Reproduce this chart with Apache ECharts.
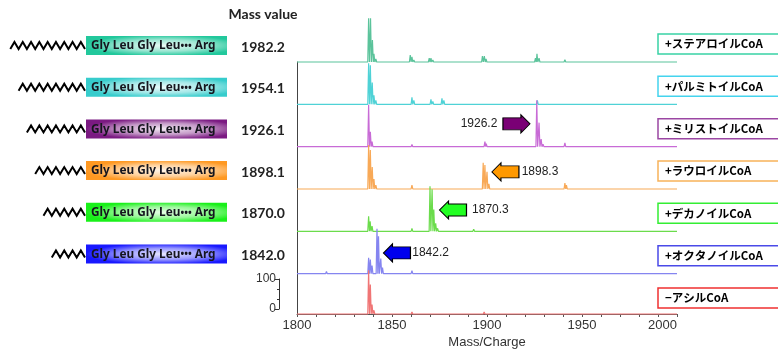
<!DOCTYPE html>
<html><head><meta charset="utf-8">
<script src="https://cdn.jsdelivr.net/npm/echarts@6/dist/echarts.min.js"></script>
<style>html,body{margin:0;padding:0;background:#fff}#c{width:778px;height:350px}</style>
</head><body><div id="c"></div>
<script>
// ---------------- data ----------------
const rowLabels = ['+ステアロイルCoA', '+パルミトイルCoA', '+ミリストイルCoA', '+ラウロイルCoA', '+デカノイルCoA', '+オクタノイルCoA', '−アシルCoA'];
const massValues = ['1982.2', '1954.1', '1926.1', '1898.1', '1870.0', '1842.0'];
const acylCarbons = [18, 16, 14, 12, 10, 8];
const peptideParts = ['Gly Leu Gly Leu', '\u2022\u2022\u2022', ' Arg'];
const massHeader = 'Mass value';
const xMin = 1800, xMax = 2000, xLabelStep = 50;
const scaleMin = 0, scaleMax = 100;
const xName = 'Mass/Charge';

// peaks: [m/z, relative intensity]
const specStearoyl = [[1816,5],[1837.7,146],[1838.7,146],[1839.7,73],[1840.5,27],[1841.5,10],[1853,4],[1859.6,23],[1860.5,17],[1861.5,7],[1869.6,13],[1870.5,13],[1871.5,7],[1885,3],[1897.6,20],[1898.6,20],[1899.5,10],[1925.5,13],[1926.3,27],[1927.4,13],[1941,8],[1954,4],[1965,3],[1984,5]];
const specPalmitoyl = [[1815,4],[1837.7,137],[1838.6,130],[1839.6,73],[1840.5,30],[1841.5,13],[1860.5,23],[1861.5,13],[1870.5,17],[1871.5,10],[1876.3,20],[1877.3,13],[1885,4],[1898.5,6],[1926.5,13],[1927.5,6],[1941,4]];
const specMyristoyl = [[1815,3],[1837.7,140],[1838.6,50],[1839.5,17],[1860.5,7],[1876,4],[1898.9,17],[1899.6,10],[1926.2,155],[1927.4,80],[1928.5,25],[1929.5,8],[1941,13],[1942,6],[1960,3],[1980,3]];
const specLauroyl = [[1837.7,147],[1838.6,130],[1839.6,73],[1840.5,33],[1841.5,13],[1860.5,13],[1861.5,6],[1870,4],[1898.0,87],[1898.9,80],[1900,57],[1901,17],[1941,20],[1941.8,13],[1955,3],[1970,3]];
const specDecanoyl = [[1837.7,50],[1838.5,33],[1839.5,17],[1860.5,10],[1870.0,150],[1871.1,140],[1872.0,73],[1873,27],[1874,10],[1893,7],[1898.5,4],[1984,4]];
const specOctanoyl = [[1815.5,7],[1837.7,53],[1838.6,47],[1839.5,27],[1842.1,150],[1842.9,125],[1844.1,50],[1845,20],[1860.5,10],[1863,5],[1898,6],[1903,6],[1930,3],[1984,3]];
const specNone = [[1837.7,153],[1838.6,103],[1839.5,33],[1840.5,13],[1860.5,7],[1898.5,7],[1930,4],[1942,3]];
const spectra = [specStearoyl, specPalmitoyl, specMyristoyl, specLauroyl, specDecanoyl, specOctanoyl, specNone];

// annotations (row index, label, arrow direction)
const annotations = [
  {row: 2, label: '1926.2', dir: 'right', arrow: [1915.5, 76], text: [1895.8, 76]},
  {row: 3, label: '1898.3', dir: 'left',  arrow: [1909.7, 57], text: [1927.9, 57]},
  {row: 4, label: '1870.3', dir: 'left',  arrow: [1882.1, 71], text: [1901.8, 71]},
  {row: 5, label: '1842.2', dir: 'left',  arrow: [1852.6, 69], text: [1870.3, 69]}
];

// ---------------- styles / layout ----------------
const specColors = ['#5bc39b', '#4fd2d6', '#c86bd6', '#f8a957', '#6bdc4c', '#8585f0', '#f07575'];
const boxColors  = ['#39d2a5', '#44d4ee', '#9b47a3', '#f7b25a', '#33ee33', '#4a4ae8', '#f03030'];
const pepColors  = ['#22c89c', '#36cccc', '#7b1a82', '#ff9922', '#19f019', '#1818ff'];
const arrowColors = {2: '#7a0075', 3: '#ff9900', 4: '#22ff22', 5: '#0000ee'};

const PLOT_L = 297, PLOT_W = 380, ROW_H = 42.33, BASE0 = 62;
const PX_PER_UNIT = 0.3; // 100 units = 30 px
const Y_MAX = ROW_H / PX_PER_UNIT;
const NARROW = 'Liberation Sans Narrow, Liberation Sans, Arial';

const ARROW_R = 'path://M0,3 L18,3 L18,0 L27,9 L18,18 L18,15 L0,15 Z';
const ARROW_L = 'path://M27,3 L9,3 L9,0 L0,9 L9,18 L9,15 L27,15 Z';

function buildLine(peaks) {
  const d = [[xMin, 0]];
  peaks.forEach(p => { d.push([p[0] - 0.45, 0]); d.push([p[0], p[1]]); d.push([p[0] + 0.45, 0]); });
  d.push([xMax, 0]);
  return d;
}

const grids = [], xAxes = [], yAxes = [], series = [];
for (let i = 0; i < spectra.length; i++) {
  const base = BASE0 + i * ROW_H;
  grids.push({left: PLOT_L, width: PLOT_W, top: base - ROW_H, height: ROW_H});
  const last = i === spectra.length - 1;
  xAxes.push({
    gridIndex: i, type: 'value', min: xMin, max: xMax, interval: xLabelStep,
    show: last,
    axisLine: {show: true, lineStyle: {color: '#555', width: 1}},
    axisTick: {show: true, length: 3, lineStyle: {color: '#555'}},
    minorTick: {show: true, splitNumber: 5, length: 3, lineStyle: {color: '#555'}},
    splitLine: {show: false}, minorSplitLine: {show: false},
    axisLabel: {show: last, fontFamily: NARROW, fontSize: 13, color: '#333', margin: 5, alignMaxLabel: 'right',
      formatter: v => String(v)},
    name: last ? xName : '', nameLocation: 'middle', nameGap: 22,
    nameTextStyle: {fontFamily: NARROW, fontSize: 13, color: '#333'}
  });
  yAxes.push({
    gridIndex: i, type: 'value', min: 0, max: Y_MAX, show: i > 0,
    axisLine: {show: true, lineStyle: {color: '#444', width: 1}},
    axisTick: {show: false}, axisLabel: {show: false}, splitLine: {show: false}
  });
  const s = {
    type: 'line', xAxisIndex: i, yAxisIndex: i, data: buildLine(spectra[i]),
    showSymbol: false, symbol: 'none', clip: false, animation: false,
    lineStyle: {color: specColors[i], width: 1.2}, itemStyle: {color: specColors[i]},
    z: 3 + i
  };
  const ann = annotations.filter(a => a.row === i);
  if (ann.length) {
    const mp = [];
    ann.forEach(a => {
      mp.push({coord: a.arrow, symbol: a.dir === 'right' ? ARROW_R : ARROW_L, symbolSize: [27, 18],
        itemStyle: {color: arrowColors[i], borderColor: '#000', borderWidth: 1}, label: {show: false}});
      mp.push({coord: a.text, symbol: 'rect', symbolSize: 1, itemStyle: {color: 'rgba(0,0,0,0)'},
        label: {show: true, position: 'inside', formatter: a.label, color: '#222', fontSize: 12, fontFamily: NARROW}});
    });
    s.markPoint = {data: mp, animation: false, silent: true};
  }
  series.push(s);
}

// scale bar (0-100)
const SB = grids.length;
grids.push({left: 279, top: 279, width: 1, height: 30});
xAxes.push({gridIndex: SB, type: 'value', show: false, min: 0, max: 1});
yAxes.push({
  gridIndex: SB, type: 'value', min: scaleMin, max: scaleMax, interval: 100,
  axisLine: {show: true, lineStyle: {color: '#333', width: 1}},
  axisTick: {show: true, length: 4, lineStyle: {color: '#333'}},
  minorTick: {show: true, splitNumber: 3, length: 2, lineStyle: {color: '#333'}},
  splitLine: {show: false},
  axisLabel: {fontFamily: NARROW, fontSize: 12, color: '#333', margin: 3}
});

// graphics: peptide boxes, zigzags, mass values, right labels
const graphic = [];
graphic.push({type: 'text', x: 263, y: 14, style: {text: massHeader, fontFamily: 'Lato, sans-serif', fontWeight: 'bold', fontSize: 14, fill: '#222', align: 'center', verticalAlign: 'middle'}});
for (let i = 0; i < pepColors.length; i++) {
  const cy = 45.5 + i * 41.7;
  const top = cy - 9.5;
  graphic.push({type: 'rect', x: 86, y: top, shape: {x: 0, y: 0, width: 141, height: 19}, style: {fill: pepColors[i]}, z: 1});
  graphic.push({type: 'rect', x: 86, y: top, scaleX: 141 / 19, shape: {x: 0, y: 0, width: 19, height: 19},
    style: {fill: {type: 'radial', x: 0.55, y: 0.5, r: 0.55, colorStops: [
      {offset: 0, color: 'rgba(255,255,255,0.9)'}, {offset: 0.55, color: 'rgba(255,255,255,0.55)'}, {offset: 1, color: 'rgba(255,255,255,0)'}]}}, z: 2});
  graphic.push({type: 'text', x: 91, y: cy + 0.5, z: 3, style: {
    text: '{a|' + peptideParts[0] + '}{b|' + peptideParts[1] + '}{a|' + peptideParts[2] + '}',
    verticalAlign: 'middle',
    rich: {
      a: {fontFamily: '"Noto Sans", sans-serif', fontWeight: 'bold', fontSize: 11.8, fill: '#15151e', color: '#15151e'},
      b: {fontFamily: '"Noto Sans", sans-serif', fontWeight: 'bold', fontSize: 10, fill: '#15151e', color: '#15151e'}
    }}});
  // zigzag acyl chain
  const n = acylCarbons[i] / 2;
  const step = 4.15;
  const x0 = 85 - n * 2 * step;
  const pts = [];
  for (let k = 0; k <= n * 2; k++) pts.push([x0 + k * step, cy + (k % 2 === 0 ? 3.5 : -3.5)]);
  graphic.push({type: 'polyline', shape: {points: pts}, style: {stroke: '#000', lineWidth: 2, fill: null}, z: 2});
  graphic.push({type: 'text', x: 263, y: cy + 1.5, style: {text: massValues[i], fontFamily: 'Lato, sans-serif', fontWeight: 'bold', fontSize: 14, fill: '#222', align: 'center', verticalAlign: 'middle'}});
}
for (let i = 0; i < rowLabels.length; i++) {
  const base = BASE0 + i * ROW_H;
  graphic.push({type: 'rect', shape: {x: 658, y: base - 28, width: 140, height: 20}, style: {fill: '#fff', stroke: boxColors[i], lineWidth: 1.5}, z: 1});
  graphic.push({type: 'text', x: 665, y: base - 18, style: {text: rowLabels[i], fontFamily: '"Noto Sans CJK JP", sans-serif', fontWeight: 'bold', fontSize: 11.5, fill: '#000', verticalAlign: 'middle'}, z: 2});
}

const chart = echarts.init(document.getElementById('c'), null, {renderer: 'canvas'});
chart.setOption({
  animation: false,
  grid: grids, xAxis: xAxes, yAxis: yAxes, series: series, graphic: graphic
});
</script></body></html>
